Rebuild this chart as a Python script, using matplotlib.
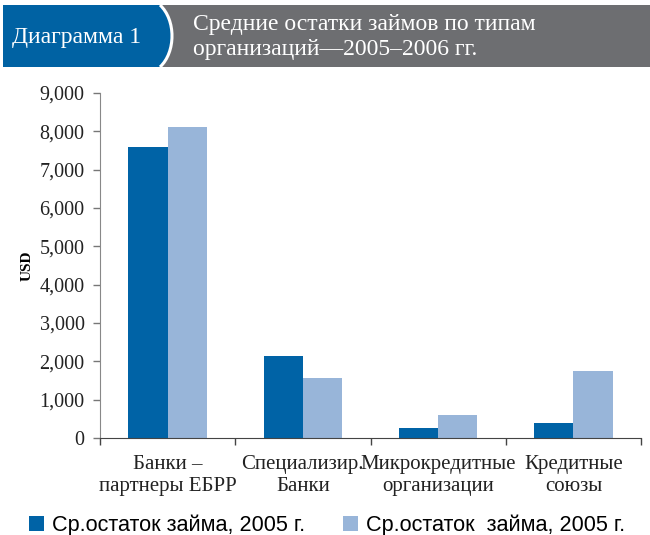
import matplotlib
matplotlib.use("Agg")
import matplotlib.pyplot as plt
from matplotlib.patches import Rectangle, PathPatch, Patch
from matplotlib.path import Path
import numpy as np

categories = ["Банки –\nпартнеры ЕБРР", "Специализир.\nБанки",
              "Микрокредитные\nорганизации", "Кредитные\nсоюзы"]
series_2005 = [7600, 2140, 270, 390]
series_2006 = [8100, 1570, 590, 1760]
legend_labels = ["Ср.остаток займа, 2005 г.", "Ср.остаток  займа, 2005 г."]
yticks = [0, 1000, 2000, 3000, 4000, 5000, 6000, 7000, 8000, 9000]
header_left = "Диаграмма 1"
header_right = "Средние остатки займов по типам\nорганизаций—2005–2006 гг."
ylabel = "USD"

DARK = "#0063a6"
LIGHT = "#98b5d9"
HEAD_BLUE = "#0062a3"
HEAD_GRAY = "#6d6e71"
SERIF = ["Liberation Serif", "DejaVu Serif"]
SANS = ["Liberation Sans", "DejaVu Sans"]

W, H = 650, 535
fig = plt.figure(figsize=(W / 100, H / 100), dpi=100)

# header overlay in pixel coordinates
ov = fig.add_axes([0, 0, 1, 1])
ov.set_xlim(0, W)
ov.set_ylim(H, 0)
ov.axis("off")
ov.add_patch(Rectangle((150, 5), W - 150, 62, facecolor=HEAD_GRAY, edgecolor="none"))
verts = [(3, 5), (160, 5), (176, 20), (176, 52), (160, 67), (3, 67), (3, 5)]
codes = [Path.MOVETO, Path.LINETO, Path.CURVE4, Path.CURVE4, Path.CURVE4, Path.LINETO, Path.CLOSEPOLY]
ov.add_patch(PathPatch(Path(verts, codes), facecolor=HEAD_BLUE, edgecolor="none"))
curve = Path([(160, 5), (176, 20), (176, 52), (160, 67)],
             [Path.MOVETO, Path.CURVE4, Path.CURVE4, Path.CURVE4])
ov.add_patch(PathPatch(curve, facecolor="none", edgecolor="white", lw=2.2))
ov.text(12, 37, header_left, color="white", fontsize=17, family=SERIF, va="center", ha="left")
ov.text(193, 37, header_right, color="white", fontsize=17, family=SERIF, va="center",
        ha="left", linespacing=1.3)

# main axes
ax = fig.add_axes([100 / W, 1 - 438 / H, 541 / W, (438 - 93) / H])
x = np.arange(len(categories))
bw = 0.29
ax.bar(x - bw / 2, series_2005, width=bw, color=DARK, zorder=2)
ax.bar(x + bw / 2, series_2006, width=bw, color=LIGHT, zorder=2)
ax.set_xlim(-0.5, len(categories) - 0.5)
ax.set_ylim(0, 9000)
ax.set_yticks(yticks)
ax.set_yticklabels([f"{v:,}" for v in yticks], family=SERIF, fontsize=14.5, color="#222222")
ax.set_xticks(x)
ax.set_xticklabels(categories, family=SERIF, fontsize=15, color="#222222", linespacing=1.25)
ax.set_xticks(np.arange(-0.5, len(categories)), minor=True)
ax.tick_params(axis="x", which="major", length=0, pad=12)
ax.tick_params(axis="x", which="minor", length=5, direction="out", color="#444444", width=1)
ax.tick_params(axis="y", length=5, direction="out", color="#777777", width=1, pad=6)
for s in ["top", "right"]:
    ax.spines[s].set_visible(False)
ax.spines["left"].set_color("#888888")
ax.spines["bottom"].set_color("#444444")
ax.set_ylabel(ylabel, family=SERIF, fontsize=11, fontweight="bold", labelpad=4)

handles = [Patch(facecolor=DARK), Patch(facecolor=LIGHT)]
fig.legend(handles, legend_labels, ncol=2, loc="lower left", bbox_to_anchor=(27 / W, -3 / H),
           frameon=False, prop={"family": SANS, "size": 15.6}, handlelength=0.7,
           handleheight=0.7, handletextpad=0.35, columnspacing=1.75, borderpad=0.1,
           borderaxespad=0)

fig.savefig("out.png", dpi=100)
